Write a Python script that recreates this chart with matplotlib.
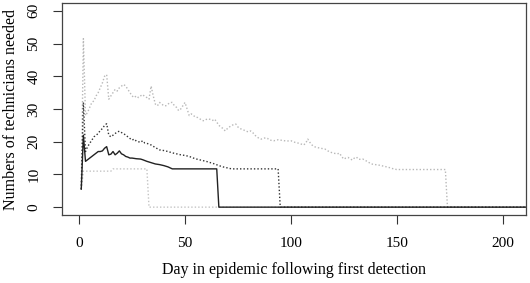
import matplotlib
matplotlib.use("Agg")
import matplotlib.pyplot as plt

# Data (day, technicians needed)
solid_days = [1,2,3,4,5,6,7,8,9,10,11,12,13,14,15,16,17,18,19,20,21,22,23,24,25,27,29,30,32,34,36,38,40,42,44,46,65,66,211]
solid_vals = [5.5,22,14,14.5,15,15.5,16,16.5,17,17,17.2,18,18.5,16,16.2,17,16,16.5,17.2,16.3,16,15.5,15.3,15,15,14.8,14.7,14.5,14,13.6,13.2,13,12.7,12.3,11.7,11.7,11.7,0,0]

dark_days = [1,2,3,4,5,6,7,8,9,10,11,12,13,14,15,16,17,18,19,20,21,22,23,24,25,26,27,28,29,30,31,32,34,36,38,40,42,44,46,48,50,52,54,56,58,60,62,64,66,68,70,72,94,95,211]
dark_vals = [5.5,32,17,18.5,19.5,20.5,21.5,22,22.5,23.5,24,25,25.5,22,21.5,22,22.5,23,23.2,22.8,22.5,22,21.5,21,20.5,20.8,20.2,20,19.8,20.3,19.6,19.5,19,18.2,17.5,17.3,17,16.6,16.3,16,15.8,15.5,15,14.6,14.3,14,13.6,13.2,12.7,12.3,12,11.7,11.7,0,0]

light_days = [1,2,3,4,5,6,7,8,9,10,11,12,13,14,15,16,17,18,19,20,21,22,23,24,25,26,27,28,29,30,31,32,33,34,35,36,37,38,39,40,41,42,43,44,45,46,47,48,49,50,51,52,53,54,55,56,57,58,59,60,61,62,63,64,65,66,67,68,69,70,71,72,73,74,75,76,77,78,79,80,81,82,83,84,85,86,87,88,89,90,92,94,96,98,100,102,104,106,107,108,109,110,111,112,114,116,118,120,122,123,124,125,126,127,128,129,130,131,132,134,136,138,140,142,144,146,148,150,173,174,211]
light_vals = [5.5,51.5,28,29,30.5,32,32.5,34,35,36.5,38,40,40.5,33,34,35,36,35.5,36.5,37,37.5,37,36,35,34,33.5,34,33.5,34,34.4,33.8,33.5,33,37,34,31.5,31,32,31.5,31,31,31.5,32,32,31,30.5,29.5,30,31,32,30,28,28.5,28,27.5,27.4,27,26.5,26.4,26.8,27,26.8,26.5,26.9,26,25,24.5,24,23.3,24,24.5,25,25.2,25.4,24.5,24,23.8,23.5,23.2,23,23.3,22.8,22,21.5,21,20.8,21,21.2,21,20.5,20.3,20.6,20.4,20.2,20.3,19.8,19.5,19,19.5,20.8,19.8,19,18.5,18.3,18,17.8,17,16.5,16.3,16.5,15.5,14.7,15,15.2,14.8,14.4,15,15.3,14.6,14.7,14,13.2,13,12.8,12.5,12.2,11.8,11.5,11.5,0,0]

low_days = [1,2,15,16,32,33,211]
low_vals = [5.5,11,11,11.7,11.7,0,0]

xticks = [0, 50, 100, 150, 200]
yticks = [0, 10, 20, 30, 40, 50, 60]

plt.rcParams['font.family'] = ['Liberation Serif', 'DejaVu Serif']

fig = plt.figure(figsize=(5.30, 2.83), dpi=100)
ax = fig.add_axes([62/530, 1 - 215/283, (526-62)/530, (215-3)/283])

dot = (0, (1, 1.5))
ax.plot(low_days, low_vals, color='#c4c4c4', lw=1.0, linestyle=dot)
ax.plot(light_days, light_vals, color='#b8b8b8', lw=1.0, linestyle=dot)
ax.plot(dark_days, dark_vals, color='#333333', lw=1.0, linestyle=dot)
ax.plot(solid_days, solid_vals, color='#222222', lw=1.0, linestyle='-')

ax.set_xlim(-8.1, 211.1)
ax.set_ylim(-2.4, 62.4)
ax.set_xticks(xticks)
ax.set_yticks(yticks)
ax.set_yticklabels([str(v) for v in yticks], rotation=90, va='center')
ax.tick_params(direction='out', length=6.5, width=0.8, color='#333333', labelsize=11, pad=9)
for s in ax.spines.values():
    s.set_color('#444444')
    s.set_linewidth(0.9)

ax.set_xlabel('Day in epidemic following first detection', fontsize=11.5, labelpad=9)
ax.set_ylabel('Numbers of technicians needed', fontsize=11.5, labelpad=6)

fig.savefig('out.png', dpi=100)
